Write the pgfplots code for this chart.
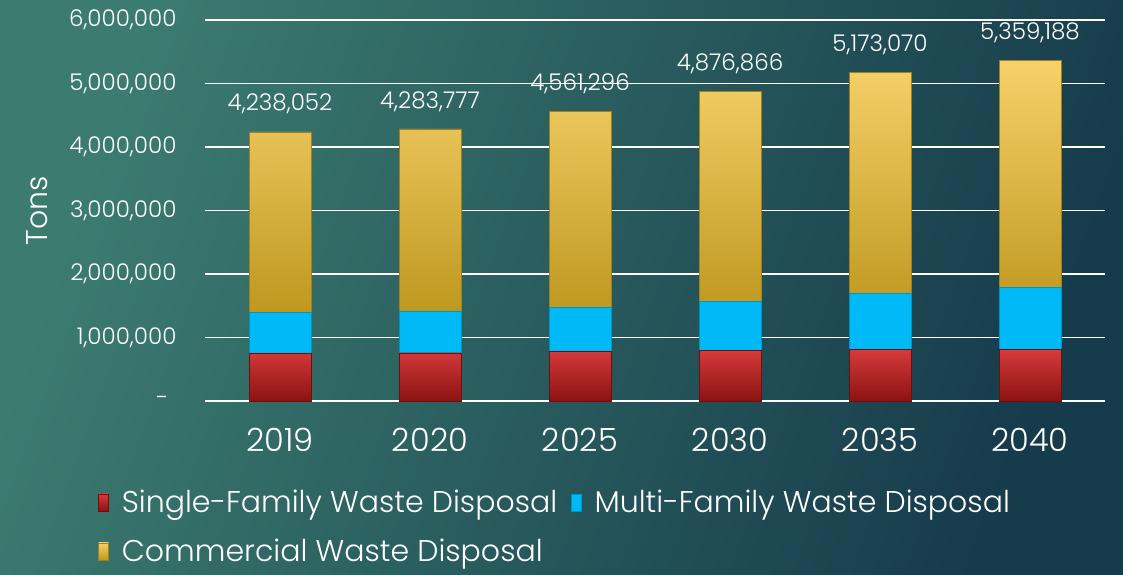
\documentclass[border=0pt]{standalone}
\usepackage{pgfplots}
\pgfplotsset{compat=1.18}
\usepackage{pgfplotstable}
\usepackage{fontspec}
\IfFontExistsTF{Poppins Light}{\setmainfont{Poppins Light}}{\setmainfont{Poppins}}
\definecolor{bgA}{HTML}{3C7C70}
\definecolor{bgB}{HTML}{163B4B}
\definecolor{redTop}{HTML}{D63B3B}
\definecolor{redBot}{HTML}{8C1212}
\definecolor{mfBlue}{HTML}{00B9F7}
\definecolor{goldTop}{HTML}{F6D16A}
\definecolor{goldBot}{HTML}{BF9820}
\pgfplotstableread{
x sf mf com top total
0 756000 645000 2837052 1 4238052
1 760000 660000 2863777 1 4283777
2 780000 700000 3081296 1 4561296
3 800000 770000 3306866 1 4876866
4 810000 890000 3473070 1 5173070
5 815000 975000 3569188 1 5359188
}\data
\begin{document}
\begin{tikzpicture}
\useasboundingbox (0,0) rectangle (1123pt,574pt);
\shade[left color=bgA, right color=bgB, shading angle=70] (0,0) rectangle (1123pt,574pt);
\begin{axis}[
  at={(205pt,173pt)}, anchor=south west,
  scale only axis, width=900pt, height=381pt,
  xmin=-0.5, xmax=5.5, ymin=0, ymax=6000000,
  clip=false,
  ybar stacked, bar width=62pt,
  every axis plot post/.append style={legend image code/.code={\fill[##1] (0pt,-9pt) rectangle (10pt,8pt);}},
  axis line style={draw=none},
  major tick length=0pt,
  ymajorgrids, grid style={white, line width=1.8pt},
  xtick={0,1,2,3,4,5}, xticklabels={2019,2020,2025,2030,2035,2040},
  ytick={0,1000000,2000000,3000000,4000000,5000000,6000000},
  yticklabels={{\makebox[20pt][l]{-}},{1,000,000},{2,000,000},{3,000,000},{4,000,000},{5,000,000},{6,000,000}},
  scaled y ticks=false,
  tick label style={text=white},
  yticklabel style={font=\fontsize{23}{26}\selectfont, xshift=-25pt},
  xticklabel style={font=\fontsize{32}{36}\selectfont, yshift=-24pt},
  ylabel={Tons},
  ylabel style={text=white, font=\fontsize{30}{34}\selectfont, at={(axis description cs:-0.186,0.5)}, anchor=center},
  legend columns=2,
  legend style={draw=none, fill=none, text=white, font=\fontsize{30}{34}\selectfont,
    at={(axis description cs:-0.122,-0.222)}, anchor=north west,
    row sep=21pt,
    /tikz/every odd column/.append style={column sep=11pt},
    /tikz/every even column/.append style={column sep=12pt}},
  legend cell align=left,
]
\addplot[draw=redBot!80!black, line width=0.4pt, top color=redTop, bottom color=redBot] table[x=x,y=sf] {\data};
\addlegendentry{Single-Family Waste Disposal}
\addplot[draw=mfBlue!80!black, line width=0.4pt, fill=mfBlue] table[x=x,y=mf] {\data};
\addlegendentry{Multi-Family Waste Disposal}
\addplot[draw=goldBot!85!black, line width=0.4pt, top color=goldTop, bottom color=goldBot] table[x=x,y=com] {\data};
\addlegendentry{Commercial Waste Disposal}
\addplot[draw=none, fill=none, forget plot,
  point meta=explicit,
  nodes near coords={\pgfmathprintnumber[fixed,precision=0,1000 sep={,},assume math mode=true]{\pgfplotspointmeta}},
  every node near coord/.append style={text=white, font=\fontsize{23}{26}\selectfont, anchor=south, yshift=14pt}]
  table[x=x,y=top,meta=total] {\data};
\end{axis}
\end{tikzpicture}
\end{document}
